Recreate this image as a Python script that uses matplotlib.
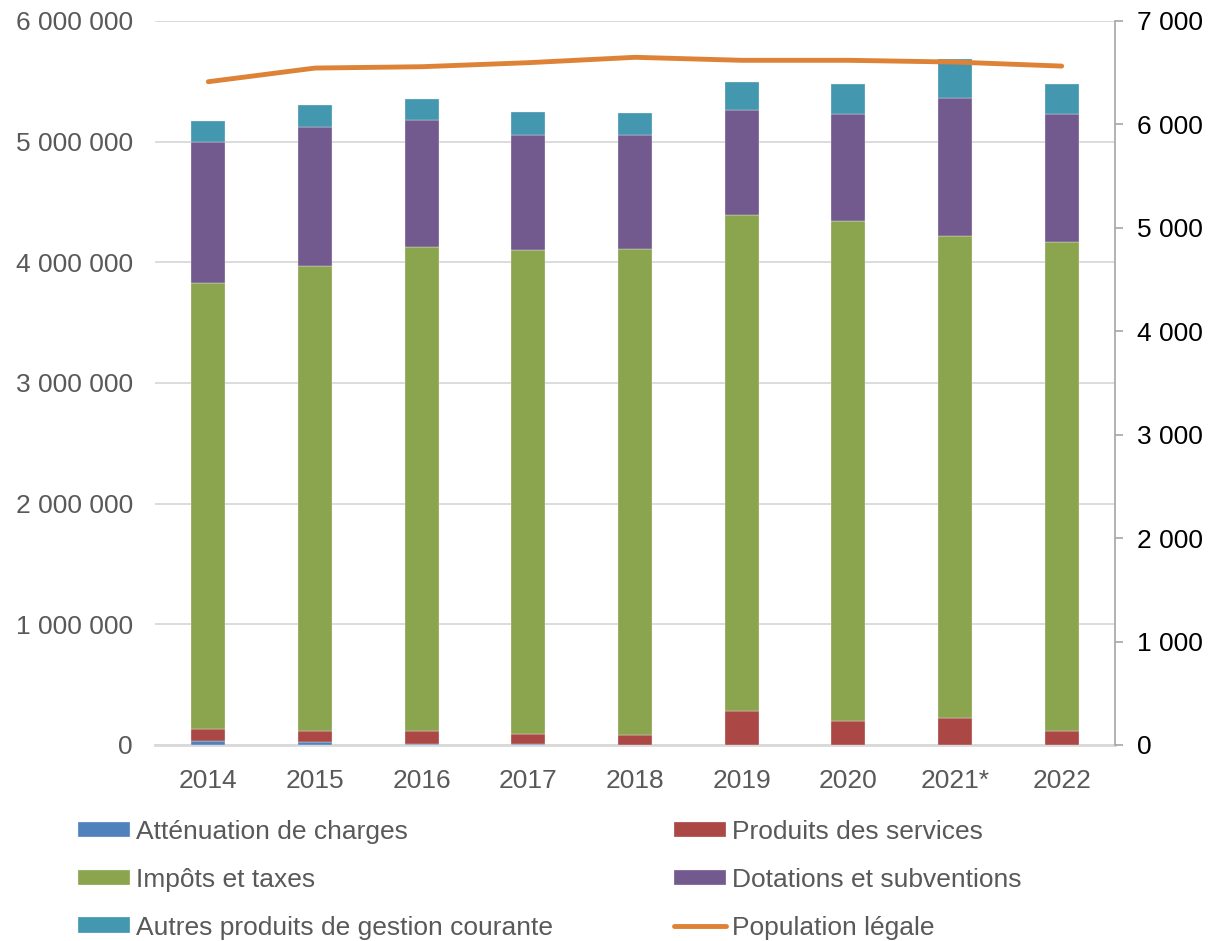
import numpy as np
import matplotlib
matplotlib.use('Agg')
from matplotlib import pyplot as plt
from matplotlib.ticker import FuncFormatter, MultipleLocator

plt.rcParams['font.family'] = ['Liberation Sans', 'DejaVu Sans']

years = ['2014', '2015', '2016', '2017', '2018', '2019', '2020', '2021*', '2022']

# recettes de fonctionnement (euros)
attenuation = [30000, 25000, 12000, 12000, 0, 0, 0, 0, 0]
produits_services = [101000, 87000, 106000, 81000, 85000, 280000, 200000, 222000, 112000]
impots_taxes = [3696000, 3856000, 4008000, 4008000, 4024000, 4111000, 4141000, 3995000, 4055000]
dotations = [1167000, 1156000, 1051000, 956000, 948000, 871000, 885000, 1147000, 1064000]
autres_produits = [179000, 177000, 179000, 186000, 180000, 235000, 249000, 321000, 247000]

# population légale (habitants)
population = [6413, 6545, 6558, 6597, 6649, 6620, 6620, 6603, 6564]

series = [
    ('Atténuation de charges', attenuation, '#4F81BD'),
    ('Produits des services', produits_services, '#AB4745'),
    ('Impôts et taxes', impots_taxes, '#8AA54E'),
    ('Dotations et subventions', dotations, '#72598E'),
    ('Autres produits de gestion courante', autres_produits, '#4397AF'),
]

grey = '#595959'
fs = 19


def spaced(v, pos):
    return '{:,.0f}'.format(v).replace(',', ' ')


fig = plt.figure(figsize=(12.09, 9.41), dpi=100)
ax = fig.add_axes([155 / 1209, 1 - 745 / 941, 960 / 1209, 724 / 941])

x = np.arange(len(years))
bottom = np.zeros(len(years))
handles = {}
for name, vals, col in series:
    b = ax.bar(x, vals, 0.32, bottom=bottom, color=col, edgecolor='#f0f0f0',
               linewidth=0.25, zorder=3, label=name)
    handles[name] = b
    bottom += np.array(vals)

ax.set_xlim(-0.5, len(years) - 0.5)
ax.set_ylim(0, 6000000)
ax.yaxis.set_major_locator(MultipleLocator(1000000))
ax.yaxis.set_major_formatter(FuncFormatter(spaced))
ax.grid(axis='y', color='#d9d9d9', linewidth=1.3, zorder=0)
ax.set_axisbelow(True)
ax.set_xticks(x)
ax.set_xticklabels(years)
ax.tick_params(axis='y', length=0, pad=16, labelsize=fs, labelcolor=grey)
ax.tick_params(axis='x', length=0, pad=17, labelsize=fs, labelcolor=grey)
for s in ['left', 'top', 'right']:
    ax.spines[s].set_visible(False)
ax.spines['bottom'].set_color('#d9d9d9')
ax.spines['bottom'].set_linewidth(2)
ax.spines['bottom'].set_zorder(1)

ax2 = ax.twinx()
line, = ax2.plot(x, population, color='#DD8236', linewidth=3.5,
                 solid_capstyle='round', label='Population légale')
ax2.set_ylim(0, 7000)
ax2.yaxis.set_major_locator(MultipleLocator(1000))
ax2.yaxis.set_major_formatter(FuncFormatter(spaced))
ax2.tick_params(axis='y', length=6, width=1.2, color='#a6a6a6', pad=10,
                labelsize=fs, labelcolor='black')
for s in ['left', 'top', 'bottom']:
    ax2.spines[s].set_visible(False)
ax2.spines['right'].set_color('#a6a6a6')
ax2.spines['right'].set_linewidth(1.2)

order = ['Atténuation de charges', 'Impôts et taxes', 'Autres produits de gestion courante',
         'Produits des services', 'Dotations et subventions']
h = [handles[n] for n in order] + [line]
lab = order + ['Population légale']
fig.legend(h, lab, ncol=2, loc='upper left', bbox_to_anchor=(78 / 1209, 1 - 820 / 941),
           frameon=False, fontsize=fs, labelcolor=grey, borderpad=0, borderaxespad=0,
           handlelength=1.97, handleheight=0.53, handletextpad=0.22,
           labelspacing=0.9, columnspacing=4.6)

fig.savefig('out.png', dpi=100)
